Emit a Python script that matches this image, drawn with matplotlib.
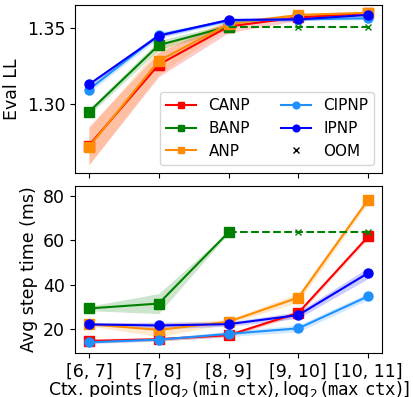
import numpy as np
import matplotlib
matplotlib.use("Agg")
import matplotlib.pyplot as plt

# x categories: [log2(min ctx), log2(max ctx)]
ctx_labels = ["[6, 7]", "[7, 8]", "[8, 9]", "[9, 10]", "[10, 11]"]
x = np.arange(len(ctx_labels))

# Eval log-likelihood (mean, half-width of band)
ll_canp = [1.273, 1.326, 1.351, 1.357, 1.3597]
ll_canp_err = [0.0125, 0.008, 0.004, 0.002, 0.001]
ll_anp = [1.272, 1.3285, 1.3526, 1.3586, 1.360]
ll_anp_err = [0.012, 0.009, 0.002, 0.001, 0.001]
ll_banp = [1.295, 1.3388, 1.351]
ll_banp_err = [0.002, 0.003, 0.002]
ll_cipnp = [1.3097, 1.3454, 1.3548, 1.3557, 1.3564]
ll_cipnp_err = [0.002, 0.002, 0.001, 0.001, 0.001]
ll_ipnp = [1.313, 1.345, 1.3553, 1.3557, 1.3586]
ll_ipnp_err = [0.001, 0.001, 0.001, 0.001, 0.001]

# Avg step time in ms (mean, half-width of band)
t_canp = [14.6, 15.4, 17.2, 27.3, 61.8]
t_canp_err = [1.0, 0.8, 0.8, 1.0, 1.0]
t_anp = [22.2, 19.6, 23.3, 34.2, 78.4]
t_anp_err = [0.8, 3.0, 1.0, 2.0, 1.5]
t_banp = [29.3, 31.5, 63.7]
t_banp_err = [1.0, 4.5, 0.5]
t_cipnp = [14.0, 15.2, 17.8, 20.3, 34.8]
t_cipnp_err = [0.6, 0.6, 1.2, 1.5, 1.5]
t_ipnp = [22.1, 21.6, 22.2, 26.3, 45.3]
t_ipnp_err = [0.6, 1.5, 1.0, 1.5, 2.5]

series = [
    ("CANP", "red", "s", ll_canp, ll_canp_err, t_canp, t_canp_err),
    ("BANP", "green", "s", ll_banp, ll_banp_err, t_banp, t_banp_err),
    ("ANP", "darkorange", "s", ll_anp, ll_anp_err, t_anp, t_anp_err),
    ("CIPNP", "dodgerblue", "o", ll_cipnp, ll_cipnp_err, t_cipnp, t_cipnp_err),
    ("IPNP", "blue", "o", ll_ipnp, ll_ipnp_err, t_ipnp, t_ipnp_err),
]

plt.rcParams["font.size"] = 12.5
fig, (ax1, ax2) = plt.subplots(2, 1, figsize=(4.14, 3.97), dpi=100, sharex=True)

for name, col, mk, ll, ll_e, t, t_e in series:
    n = len(ll)
    xs = x[:n]
    ax1.plot(xs, ll, color=col, marker=mk, markersize=6.5, label=name)
    ax1.fill_between(xs, np.array(ll) - ll_e, np.array(ll) + ll_e, color=col, alpha=0.2, linewidth=0)
    ax2.plot(xs, t, color=col, marker=mk, markersize=6.5)
    ax2.fill_between(xs, np.array(t) - t_e, np.array(t) + t_e, color=col, alpha=0.2, linewidth=0)

# BANP runs out of memory beyond [8, 9]
oom_x = x[2:]
ax1.plot(oom_x, [ll_banp[-1]] * len(oom_x), color="green", linestyle="--", marker="x",
         markevery=[1, 2], markersize=5)
ax2.plot(oom_x, [t_banp[-1]] * len(oom_x), color="green", linestyle="--", marker="x",
         markevery=[1, 2], markersize=5)
ax1.plot([], [], linestyle="none", marker="x", color="black", markersize=6, label="OOM")

ax1.set_ylabel("Eval LL")
ax1.set_yticks([1.30, 1.35])
ax1.set_ylim(1.2553, 1.365)
ax1.legend(ncol=2, loc="lower right", fontsize=11, markerscale=0.75)

ax2.set_ylabel("Avg step time (ms)")
ax2.set_yticks([20, 40, 60, 80])
ax2.set_ylim(9.2, 84.8)
ax2.set_xticks(x)
ax2.set_xticklabels(ctx_labels)
ax2.set_xlim(-0.2, 4.2)
ax2.set_xlabel(r"Ctx. points [$\log_2(\mathtt{min\ ctx}), \log_2(\mathtt{max\ ctx})$]",
               labelpad=-1)

fig.subplots_adjust(left=0.181, right=0.923, top=0.987, bottom=0.111, hspace=0.078)
fig.savefig("out.png")
